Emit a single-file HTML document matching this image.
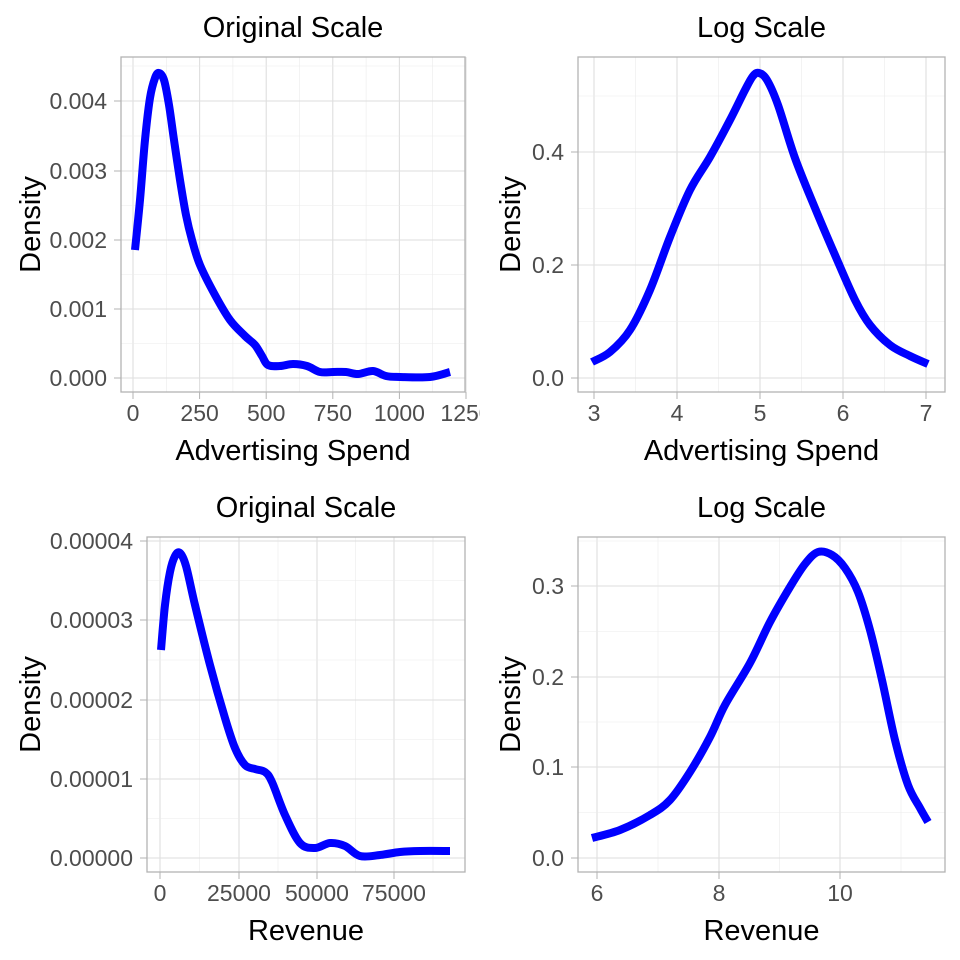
<!DOCTYPE html>
<html><head><meta charset="utf-8"><style>
body{margin:0;background:#fff}
svg{display:block;font-family:"Liberation Sans",sans-serif}
</style></head><body>
<svg id="s" width="960" height="960" xmlns="http://www.w3.org/2000/svg"></svg>
<script>
const s=document.getElementById('s');let h='<defs><clipPath id="c1"><rect x="0" y="0" width="480" height="960"/></clipPath></defs>';
function smooth(p){let d=`M${p[0][0]},${p[0][1]}`;for(let i=0;i<p.length-1;i++){const a=p[i-1]||p[i],b=p[i],c=p[i+1],e=p[i+2]||c;d+=` C${b[0]+(c[0]-a[0])/6},${b[1]+(c[1]-a[1])/6} ${c[0]-(e[0]-b[0])/6},${c[1]-(e[1]-b[1])/6} ${c[0]},${c[1]}`;}return d;}
function panel(o){
 const {x0,x1,y0,y1}=o;
 h+=`<g ${o.clip?'clip-path="url(#c1)"':''}>`;
 o.xt.forEach(t=>{h+=`<line x1="${t[0]}" x2="${t[0]}" y1="${y0}" y2="${y1}" stroke="#dedede" stroke-width="1.1"/>`;});
 o.xm.forEach(x=>{h+=`<line x1="${x}" x2="${x}" y1="${y0}" y2="${y1}" stroke="#ebebeb" stroke-width="0.6"/>`;});
 o.yt.forEach(t=>{h+=`<line x1="${x0}" x2="${x1}" y1="${t[0]}" y2="${t[0]}" stroke="#dedede" stroke-width="1.1"/>`;});
 o.ym.forEach(y=>{h+=`<line x1="${x0}" x2="${x1}" y1="${y}" y2="${y}" stroke="#ebebeb" stroke-width="0.6"/>`;});
 h+=`<path d="${smooth(o.pts)}" fill="none" stroke="#0000ff" stroke-width="8" stroke-linejoin="round"/>`;
 h+=`<rect x="${x0}" y="${y0}" width="${x1-x0}" height="${y1-y0}" fill="none" stroke="#b3b3b3" stroke-width="1.3"/>`;
 o.xt.forEach(t=>{h+=`<line x1="${t[0]}" x2="${t[0]}" y1="${y1}" y2="${y1+7}" stroke="#b3b3b3"/><text x="${t[0]}" y="${y1+29}" font-size="23" fill="#4d4d4d" text-anchor="middle">${t[1]}</text>`;});
 o.yt.forEach(t=>{h+=`<line x1="${x0-7}" x2="${x0}" y1="${t[0]}" y2="${t[0]}" stroke="#b3b3b3"/><text x="${x0-14}" y="${t[0]+8}" font-size="23" fill="#4d4d4d" text-anchor="end">${t[1]}</text>`;});
 h+=`</g>`;
 h+=`<text x="${(x0+x1)/2}" y="${y0-20}" font-size="29" text-anchor="middle">${o.title}</text>`;
 h+=`<text x="${(x0+x1)/2}" y="${y1+68}" font-size="29" text-anchor="middle">${o.xl}</text>`;
 h+=`<text transform="translate(${o.yx},${(y0+y1)/2}) rotate(-90)" font-size="29" text-anchor="middle">Density</text>`;
}
function mids(a){const r=[];for(let i=0;i<a.length-1;i++)r.push((a[i]+a[i+1])/2);return r;}
let xs=[133,199.6,266.2,332.8,399.4,466],ys=[378,309,240,171,101];
panel({clip:1,x0:121,x1:465,y0:57,y1:392,title:"Original Scale",xl:"Advertising Spend",yx:40,
 xt:xs.map((x,i)=>[x,[0,250,500,750,1000,1250][i]]),xm:mids(xs),
 yt:ys.map((y,i)=>[y,["0.000","0.001","0.002","0.003","0.004"][i]]),ym:mids(ys).concat([66]),
 pts:[[135,250],[140,200],[145,140],[150,98],[155,78],[159,73],[164,80],[169,105],[174,140],[180,180],[186,215],[192,240],[200,265],[215,295],[230,320],[245,336],[255,345],[262,356],[268,365],[280,366],[293,364],[307,366],[320,372],[333,372],[346,372],[358,374],[373,371],[386,376],[400,377],[430,377],[450,372]]});
xs=[594,677,760,843,926];ys=[378,265,152];
panel({x0:578,x1:945,y0:57,y1:392,title:"Log Scale",xl:"Advertising Spend",yx:520,
 xt:xs.map((x,i)=>[x,i+3]),xm:mids(xs),
 yt:ys.map((y,i)=>[y,["0.0","0.2","0.4"][i]]),ym:mids(ys).concat([96]),
 pts:[[592,362],[610,352],[630,330],[650,290],[670,237],[690,190],[710,157],[730,120],[745,90],[753,76],[759,73],[767,80],[778,105],[795,158],[815,208],[835,255],[855,300],[870,325],[890,345],[910,356],[928,364]]});
xs=[160,239,317,394,472];ys=[858,779,700,620,541];
panel({x0:147,x1:465,y0:537,y1:872,title:"Original Scale",xl:"Revenue",yx:40,
 xt:xs.slice(0,4).map((x,i)=>[x,[0,25000,50000,75000][i]]),xm:mids(xs).concat([433]),
 yt:ys.map((y,i)=>[y,["0.00000","0.00001","0.00002","0.00003","0.00004"][i]]),ym:mids(ys),
 pts:[[161,650],[165,605],[170,572],[175,556],[180,553],[186,566],[195,605],[210,665],[225,718],[235,748],[245,765],[255,769],[265,772],[272,782],[285,815],[300,843],[315,848],[330,843],[345,846],[360,856],[380,855],[400,852],[420,851],[450,851]]});
xs=[597,719,840];ys=[858,767,677,586];
panel({x0:578,x1:945,y0:537,y1:872,title:"Log Scale",xl:"Revenue",yx:520,
 xt:xs.map((x,i)=>[x,[6,8,10][i]]),xm:mids(xs).concat([901]),
 yt:ys.map((y,i)=>[y,["0.0","0.1","0.2","0.3"][i]]),ym:mids(ys).concat([541]),
 pts:[[592,838],[620,830],[650,815],[670,800],[690,772],[710,737],[725,705],[750,663],[770,622],[790,587],[805,564],[818,552],[832,555],[845,568],[858,592],[870,630],[882,680],[895,740],[908,785],[920,808],[928,822]]});
s.innerHTML=h;
</script>
</body></html>
